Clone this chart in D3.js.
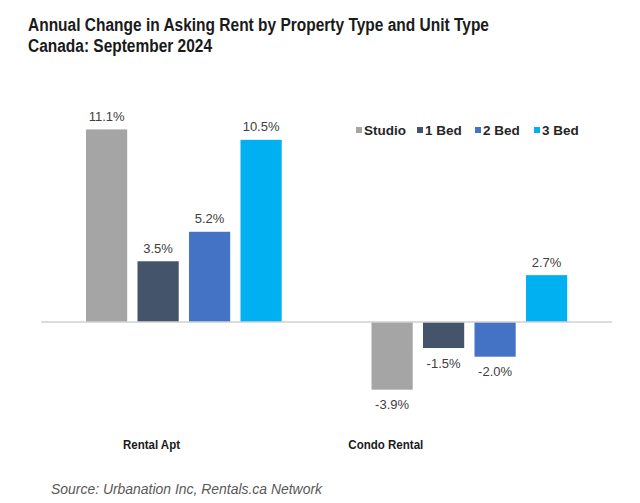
<!DOCTYPE html>
<html>
<head>
<meta charset="utf-8">
<script src="https://cdn.jsdelivr.net/npm/d3@7"></script>
<style>
  html, body { margin: 0; padding: 0; background: #ffffff; }
  svg { display: block; }
</style>
</head>
<body>
<svg id="chart" width="640" height="503"></svg>
<script>
// ---- data ----
const categories = ["Rental Apt", "Condo Rental"];
const unitTypes = ["Studio", "1 Bed", "2 Bed", "3 Bed"];
const rentalApt = [11.1, 3.5, 5.2, 10.5];
const condoRental = [-3.9, -1.5, -2.0, 2.7];
const seriesColors = ["#a5a5a5", "#44546a", "#4472c4", "#00b0f0"];
const titleLines = ["Annual Change in Asking Rent by Property Type and Unit Type", "Canada: September 2024"];
const sourceText = "Source: Urbanation Inc, Rentals.ca Network";

const values = [rentalApt, condoRental];
const rows = [];
categories.forEach((c, ci) => unitTypes.forEach((u, ui) => rows.push({ cat: c, unit: u, value: values[ci][ui] })));

const svg = d3.select("#chart");
const font = "'Liberation Sans', Arial, sans-serif";
const fmt = d3.formatLocale({ decimal: ".", thousands: ",", grouping: [3], currency: ["$", ""], minus: "-" }).format(".1f");

// ---- scales ----
const x0 = d3.scaleBand().domain(categories).range([41, 612]).paddingInner(0).paddingOuter(0);
const x1 = d3.scaleBand().domain(unitTypes).range([45, 240.7]).paddingInner(0.2).paddingOuter(0);
const y = d3.scaleLinear().domain([-6, 12]).range([426.1, 113.8]);
const color = d3.scaleOrdinal().domain(unitTypes).range(seriesColors);
const labelX = d3.scalePoint().domain(categories).range([151.5, 385.8]);

// ---- title ----
const titleWidths = [461, 184];
titleLines.forEach((t, i) => {
  svg.append("text")
    .attr("x", 28).attr("y", 31 + i * 20.5)
    .attr("font-family", font).attr("font-weight", "bold").attr("font-size", 18)
    .attr("fill", "#1a1a1a")
    .attr("textLength", titleWidths[i]).attr("lengthAdjust", "spacingAndGlyphs")
    .text(t);
});

// ---- bars ----
const g = svg.append("g");
g.selectAll("rect.bar").data(rows).enter().append("rect")
  .attr("class", "bar")
  .attr("x", d => x0(d.cat) + x1(d.unit))
  .attr("width", x1.bandwidth())
  .attr("y", d => y(Math.max(0, d.value)))
  .attr("height", d => Math.abs(y(d.value) - y(0)))
  .attr("fill", d => color(d.unit));

// ---- zero line ----
svg.append("line")
  .attr("x1", x0.range()[0]).attr("x2", x0.range()[1])
  .attr("y1", y(0)).attr("y2", y(0))
  .attr("stroke", "#d0d0d0").attr("stroke-width", 1.5);

// ---- value labels ----
g.selectAll("text.val").data(rows).enter().append("text")
  .attr("class", "val")
  .attr("x", d => x0(d.cat) + x1(d.unit) + x1.bandwidth() / 2)
  .attr("y", d => d.value >= 0 ? y(d.value) - 8.5 : y(d.value) + 19.5)
  .attr("text-anchor", "middle")
  .attr("font-family", font).attr("font-size", 13)
  .attr("fill", "#404040")
  .text(d => fmt(d.value) + "%");

// ---- category labels ----
const catWidths = { "Rental Apt": 57, "Condo Rental": 75 };
svg.selectAll("text.cat").data(categories).enter().append("text")
  .attr("class", "cat")
  .attr("x", d => labelX(d) - catWidths[d] / 2)
  .attr("y", 449)
  .attr("font-family", font).attr("font-weight", "bold").attr("font-size", 12.5)
  .attr("fill", "#1a1a1a")
  .attr("textLength", d => catWidths[d]).attr("lengthAdjust", "spacingAndGlyphs")
  .text(d => d);

// ---- legend ----
const legendX = [356, 417, 475, 534];
const leg = svg.selectAll("g.leg").data(unitTypes).enter().append("g")
  .attr("class", "leg")
  .attr("transform", (d, i) => `translate(${legendX[i]},130)`);
leg.append("rect").attr("x", 0).attr("y", -3).attr("width", 6).attr("height", 6)
  .attr("fill", d => color(d));
leg.append("text").attr("x", 8).attr("y", 5)
  .attr("font-family", font).attr("font-weight", "bold").attr("font-size", 13.5)
  .attr("fill", "#262626")
  .text(d => d);

// ---- source ----
svg.append("text")
  .attr("x", 51).attr("y", 494)
  .attr("font-family", font).attr("font-style", "italic").attr("font-size", 14.5)
  .attr("fill", "#595959")
  .attr("textLength", 271).attr("lengthAdjust", "spacingAndGlyphs")
  .text(sourceText);
</script>
</body>
</html>
